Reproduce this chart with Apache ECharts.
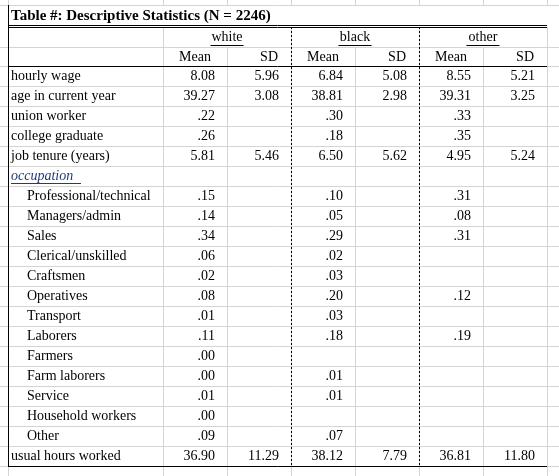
<!DOCTYPE html><html><head><meta charset="utf-8">
<script src="https://cdn.jsdelivr.net/npm/echarts@6/dist/echarts.min.js"></script>
<style>html,body{margin:0;padding:0;background:#fff}#c{width:559px;height:476px}</style></head><body><div id="c"></div>
<script>
const title = 'Table #: Descriptive Statistics (N = 2246)';
const groups = ['white','black','other'];
const subHeads = ['Mean','SD'];
const rows = ['hourly wage','age in current year','union worker','college graduate','job tenure (years)','occupation','Professional/technical','Managers/admin','Sales','Clerical/unskilled','Craftsmen','Operatives','Transport','Laborers','Farmers','Farm laborers','Service','Household workers','Other','usual hours worked'];
const whiteMean = ['8.08','39.27','.22','.26','5.81','','.15','.14','.34','.06','.02','.08','.01','.11','.00','.00','.01','.00','.09','36.90'];
const whiteSD   = ['5.96','3.08','','','5.46','','','','','','','','','','','','','','','11.29'];
const blackMean = ['6.84','38.81','.30','.18','6.50','','.10','.05','.29','.02','.03','.20','.03','.18','','.01','.01','','.07','38.12'];
const blackSD   = ['5.08','2.98','','','5.62','','','','','','','','','','','','','','','7.79'];
const otherMean = ['8.55','39.31','.33','.35','4.95','','.31','.08','.31','','','.12','','.19','','','','','','36.81'];
const otherSD   = ['5.21','3.25','','','5.24','','','','','','','','','','','','','','','11.80'];
const cols = [whiteMean, whiteSD, blackMean, blackSD, otherMean, otherSD];

const xEdges = [8,163,227,291,355,419,483,547];
const yTitle = [5,25], yH1 = [27,47], rowTop = 66, rowH = 20;
const FONT = '"Liberation Serif","Times New Roman",serif';

function renderItem(params, api) {
  const P = (x,y) => api.coord([x,y]);
  const els = [];
  const line = (x1,y1,x2,y2,color,w,dash) => { const a=P(x1,y1), b=P(x2,y2);
    const ox = (x1===x2)?0.5:0, oy=(y1===y2)?0.5:0;
    els.push({type:'line',shape:{x1:a[0]+ox,y1:a[1]+oy,x2:b[0]+ox,y2:b[1]+oy},style:{stroke:color,lineWidth:w||1,lineDash:dash||null}}); };
  const text = (t,x,y,align,opt) => { const a=P(x,y); opt=opt||{};
    els.push({type:'text',x:a[0],y:a[1],style:Object.assign({text:t,fill:'#000',font:(opt.font||'14px')+' '+FONT,align:align,verticalAlign:'middle'},opt.style||{})}); };
  const G = '#d4d4d4';
  const hs = [yTitle[0], yH1[1]]; for (let i=0;i<=21;i++) hs.push(rowTop+i*rowH);
  hs.forEach(y=>line(0,y,559,y,G));
  xEdges.forEach(x=>{
    line(x,0,x,yTitle[0],G);
    const merged = [227,355,483].includes(x);
    line(x, merged?yH1[1]:yH1[0], x, 476, G);
  });
  text(title, 11, 16, 'left', {font:'bold 15px'});
  line(8,25,547,25,'#000',1); line(8,27,547,27,'#000',1);
  line(8,66,547,66,'#000',1); line(8,466,547,466,'#000',1);
  line(8,5,8,466,'#000',1);
  line(291,27,291,466,'#000',1,[2,2]); line(419,27,419,466,'#000',1,[2,2]);
  groups.forEach((g,i)=>{
    const cx = xEdges[1+2*i+1];
    text(g, cx, 37, 'center');
    const w = g.length*6.6;
    line(cx-w/2,45,cx+w/2,45,'#000',1);
    text(subHeads[0], (xEdges[1+2*i]+xEdges[2+2*i])/2, 57, 'center');
    text(subHeads[1], xEdges[3+2*i]-13, 57, 'right');
  });
  rows.forEach((r,i)=>{
    const cy = rowTop + i*rowH + 10;
    if (i===5) {
      text(r, 11, cy, 'left', {font:'italic 14px', style:{fill:'#1f3b7a'}});
      line(11,cy+7,81,cy+7,'#1f3b7a',1);
    } else {
      text(r, (i>5 && i<19) ? 27 : 11, cy, 'left');
    }
    cols.forEach((c,j)=>{ if (c[i]) text(c[i], xEdges[2+j]-12, cy, 'right'); });
  });
  return {type:'group', children: els};
}

const chart = echarts.init(document.getElementById('c'));
chart.setOption({
  animation:false,
  grid:{left:0,right:0,top:0,bottom:0},
  xAxis:{type:'value',min:0,max:559,show:false},
  yAxis:{type:'value',min:0,max:476,inverse:true,show:false},
  series:[{type:'custom',renderItem:renderItem,data:[[0,0]],silent:true}]
});
</script></body></html>
